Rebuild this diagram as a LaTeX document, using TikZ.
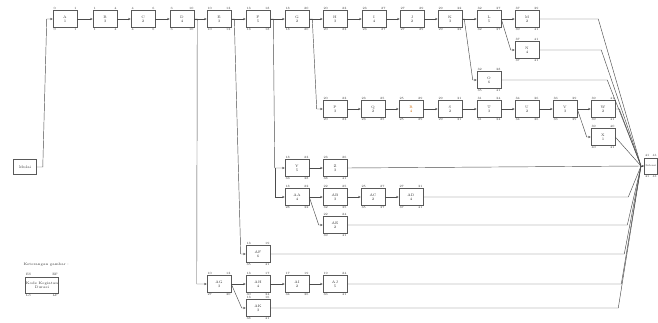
\documentclass[tikz,border=0pt]{standalone}
\usetikzlibrary{arrows.meta,positioning,calc}

\begin{document}
\begin{tikzpicture}[x=1pt, y=-1pt,
  box/.style={rectangle, draw=black!65, fill=white, line width=0.55pt,
              minimum width=24pt, minimum height=17pt, inner sep=0.5pt,
              align=center, font=\fontsize{3.6}{4.2}\selectfont, text=black!80},
  num/.style={font=\fontsize{3.2}{3.6}\selectfont, text=black!75, inner sep=0.6pt},
  task/.style n args={4}{box,
    label={[num,anchor=south west]north west:#1},
    label={[num,anchor=south east]north east:#2},
    label={[num,anchor=north west]south west:#3},
    label={[num,anchor=north east]south east:#4}},
  link/.style={draw=black!70, line width=0.45pt},
  >={Stealth[length=2.6pt,width=2.2pt]}
]
  \useasboundingbox (0,0) rectangle (658,322);

  % Start and finish
  \node[box, minimum width=23pt, minimum height=15pt] (Start) at (25,167) {Mulai};
  \node[task={41}{41}{41}{41}, minimum width=13pt, minimum height=16pt,
        font=\fontsize{2.7}{3}\selectfont] (Fin) at (651,166) {Selesai};
  \coordinate (conv) at (641,166);

  % Main path
  \node[task={0}{1}{0}{1}]     (A) at (65,19)  {A\\1};
  \node[task={1}{4}{1}{4}]     (B) at (105,19) {B\\3};
  \node[task={4}{6}{4}{6}]     (C) at (143,19) {C\\2};
  \node[task={6}{10}{6}{10}]   (D) at (182,19) {D\\4};
  \node[task={10}{13}{10}{13}] (E) at (219,19) {E\\3};
  \node[task={13}{18}{13}{18}] (F) at (258,19) {F\\5};
  \node[task={18}{20}{18}{20}] (G) at (297,19) {G\\2};
  \node[task={20}{23}{20}{23}] (H) at (335,19) {H\\3};
  \node[task={23}{27}{23}{27}] (I) at (374,19) {I\\4};
  \node[task={27}{29}{27}{29}] (J) at (412,19) {J\\2};
  \node[task={29}{32}{29}{32}] (K) at (450,19) {K\\3};
  \node[task={32}{37}{32}{37}] (L) at (489,19) {L\\5};
  \node[task={37}{39}{39}{41}] (M) at (527,19) {M\\2};
  \node[task={37}{41}{37}{41}] (N) at (527,50) {N\\4};
  \node[task={32}{38}{35}{41}] (O) at (489,80) {O\\6};

  % Second path
  \node[task={20}{23}{20}{23}] (P) at (335,109) {P\\3};
  \node[task={23}{25}{23}{25}] (Q) at (373,109) {Q\\2};
  \node[task={25}{29}{25}{29}, text=orange!80!black] (R) at (411,109) {R\\4};
  \node[task={29}{31}{29}{31}] (S) at (450,109) {S\\2};
  \node[task={31}{34}{31}{34}] (T) at (489,109) {T\\3};
  \node[task={34}{36}{34}{36}] (U) at (527,109) {U\\2};
  \node[task={36}{39}{36}{39}] (V) at (565,109) {V\\3};
  \node[task={39}{41}{39}{41}] (W) at (603,109) {W\\2};
  \node[task={39}{40}{40}{41}] (X) at (603,137) {X\\1};

  % Branches from F
  \node[task={18}{23}{33}{38}] (Y)  at (297,168) {Y\\5};
  \node[task={23}{26}{38}{41}] (Z)  at (335,168) {Z\\3};
  \node[task={18}{22}{28}{32}] (AA) at (297,197) {AA\\4};
  \node[task={22}{25}{32}{35}] (AB) at (335,197) {AB\\3};
  \node[task={25}{27}{35}{37}] (AC) at (373,197) {AC\\2};
  \node[task={27}{31}{37}{41}] (AD) at (411,197) {AD\\4};
  \node[task={22}{24}{39}{41}] (AE) at (335,225) {AE\\2};

  % Branches from D and E
  \node[task={13}{19}{35}{41}] (AF) at (258,254) {AF\\6};
  \node[task={10}{13}{27}{30}] (AG) at (219,284) {AG\\3};
  \node[task={13}{17}{30}{34}] (AH) at (258,284) {AH\\4};
  \node[task={17}{19}{34}{36}] (AI) at (297,284) {AI\\2};
  \node[task={19}{24}{36}{41}] (AJ) at (335,284) {AJ\\5};
  \node[task={13}{16}{38}{41}] (AK) at (258,308) {AK\\3};

  % Legend
  \node[font=\fontsize{3.6}{4.2}\selectfont, text=black!80, anchor=west] (legtitle) at (20,265) {Keterangan gambar :};
  \node[task={ES}{EF}{LS}{LF}, minimum width=30pt, minimum height=16pt] (legend) at (42,285) {Kode Kegiatan\\Durasi};

  % Start arrow
  \draw[link,->] (Start.east) -- ++(6,0) -- ($(A.west)+(-6,0)$) -- (A.west);

  % Main path arrows
  \draw[link,->] (A) -- (B);
  \draw[link,->] (B) -- (C);
  \draw[link,->] (C) -- (D);
  \draw[link,->] (D) -- (E);
  \draw[link,->] (E) -- (F);
  \draw[link,->] (F) -- (G);
  \draw[link,->] (G) -- (H);
  \draw[link,->] (H) -- (I);
  \draw[link,->] (I) -- (J);
  \draw[link,->] (J) -- (K);
  \draw[link,->] (K) -- (L);
  \draw[link,->] (L) -- (M);
  \draw[link,->] (L.east) -- ($(N.west)+(-4,0)$) -- (N.west);
  \draw[link,->] (K.east) -- ++(2,0) -- ($(O.west)+(-4,0)$) -- (O.west);

  % Second path arrows
  \draw[link,->] (G.east) -- ++(3,0) -- ($(P.west)+(-6,0)$) -- (P.west);
  \draw[link,->] (P) -- (Q);
  \draw[link,->] (Q) -- (R);
  \draw[link,->] (R) -- (S);
  \draw[link,->] (S) -- (T);
  \draw[link,->] (T) -- (U);
  \draw[link,->] (U) -- (V);
  \draw[link,->] (V) -- (W);
  \draw[link,->] (V.east) -- ($(X.west)+(-4,0)$) -- (X.west);

  % Arrows from F
  \draw[link,->] (F.east) -- ++(3,0) -- ($(Y.west)+(-10,0)$) -- (Y.west);
  \draw[link,->] ($(Y.west)+(-10,0)$) -- ($(AA.west)+(-10,0)$) -- (AA.west);
  \draw[link,->] (Y) -- (Z);
  \draw[link,->] (AA) -- (AB);
  \draw[link,->] (AB) -- (AC);
  \draw[link,->] (AC) -- (AD);
  \draw[link,->] (AA.east) -- ($(AE.west)+(-4,0)$) -- (AE.west);

  % Arrows from D and E
  \draw[link,->] (E.east) -- ++(3,0) -- ($(AF.west)+(-5,0)$) -- (AF.west);
  \draw[link,->] (D.east) -- ++(3,0) -- ($(AG.west)+(-10,0)$) -- (AG.west);
  \draw[link,->] (AG) -- (AH);
  \draw[link,->] (AH) -- (AI);
  \draw[link,->] (AI) -- (AJ);
  \draw[link,->] (AG.east) -- ($(AK.west)+(-4,0)$) -- (AK.west);

  % Into finish
  \draw[link] (M.east)  -- ++(59,0)  -- (conv);
  \draw[link] (N.east)  -- ++(62,0)  -- (conv);
  \draw[link] (O.east)  -- ++(106,0) -- (conv);
  \draw[link] (W.east)  -- ++(4,0)   -- (conv);
  \draw[link] (X.east)  -- (conv);
  \draw[link] (Z.east)  -- (conv);
  \draw[link] (AD.east) -- ++(205,0) -- (conv);
  \draw[link] (AE.east) -- ++(280,0) -- (conv);
  \draw[link] (AF.east) -- ++(354,0) -- (conv);
  \draw[link] (AJ.east) -- ++(274,0) -- (conv);
  \draw[link] (AK.east) -- ++(348,0) -- (conv);
  \draw[link,->] (conv) -- (Fin.west);
\end{tikzpicture}
\end{document}
